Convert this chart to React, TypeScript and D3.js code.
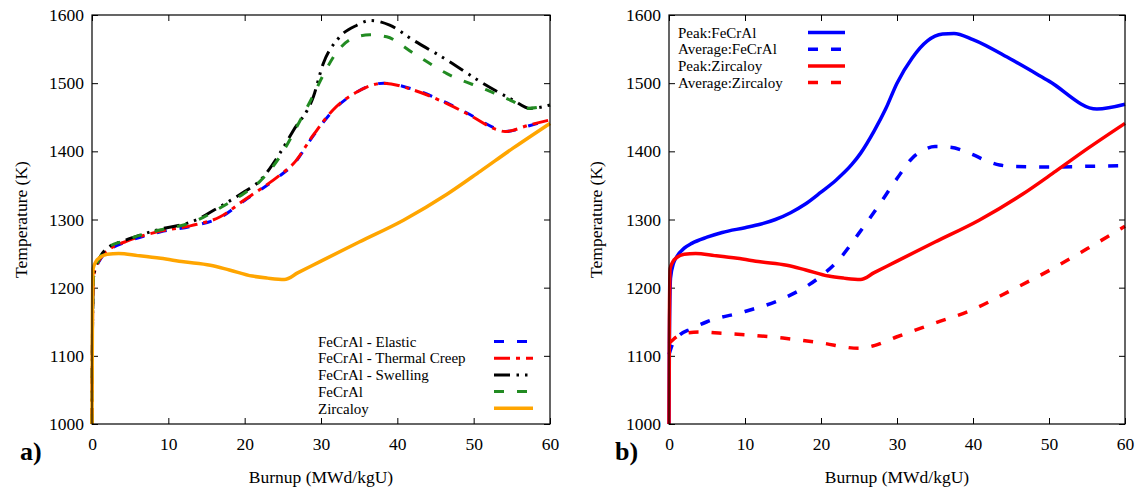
import React, { useRef, useEffect } from 'react'
import * as d3 from 'd3'

type Pt = [number, number]

const xTicks = [0, 10, 20, 30, 40, 50, 60]
const yTicks = [1000, 1100, 1200, 1300, 1400, 1500, 1600]

// panel a) burnup (MWd/kgU) vs temperature (K)
const elastic: Pt[] = [[0, 1000], [0.05, 1120], [0.2, 1215], [0.5, 1228], [1, 1240], [1.5, 1248], [2.5, 1257], [4.5, 1267], [9, 1282], [13, 1290], [16.8, 1303], [20, 1328], [22, 1343], [24.6, 1364], [26.4, 1381], [29, 1423], [31.6, 1460], [34.7, 1487], [38.2, 1500], [42.1, 1491], [46.5, 1471], [49.5, 1454], [53, 1433], [54.1, 1429], [57.4, 1438], [60, 1446]]
const thermalCreep: Pt[] = [[0, 1000], [0.05, 1120], [0.2, 1216], [0.5, 1229], [1, 1241], [1.5, 1249], [2.5, 1258], [4.5, 1268], [9, 1283], [13, 1291], [16.8, 1304], [20, 1329], [22, 1344], [24.6, 1365], [26.4, 1382], [29, 1424], [31.6, 1461], [34.7, 1487], [38.2, 1500], [42.1, 1490], [46.5, 1470], [49.5, 1453], [53, 1432], [54.1, 1429], [57.4, 1439], [60, 1446]]
const swelling: Pt[] = [[0, 1000], [0.05, 1120], [0.2, 1216], [0.5, 1231], [1, 1244], [2, 1258], [4, 1268], [6, 1276], [9, 1286], [12, 1293], [14, 1301], [16, 1314], [18, 1327], [20, 1341], [22, 1357], [24.6, 1397], [26.4, 1431], [29, 1480], [30.3, 1529], [32.3, 1566], [34.7, 1585], [36.5, 1592], [39, 1585], [42.1, 1563], [46.5, 1534], [50.9, 1502], [55.2, 1475], [57.4, 1463], [60, 1468]]
const fecral: Pt[] = [[0, 1000], [0.05, 1120], [0.2, 1215], [0.5, 1230], [1, 1243], [2, 1258], [4, 1268], [6, 1276], [9, 1285], [12, 1292], [14, 1300], [16, 1312], [18, 1325], [20, 1339], [22, 1356], [24.6, 1392], [27.3, 1446], [28.8, 1478], [30.3, 1512], [32.1, 1546], [34.2, 1566], [36.4, 1571], [38.6, 1568], [42.1, 1544], [46.5, 1514], [51.7, 1490], [55.2, 1473], [56.9, 1463], [60, 1468]]
const zircaloy: Pt[] = [[0, 1000], [0.05, 1150], [0.15, 1228], [0.5, 1238], [1, 1244], [2, 1249], [3.5, 1250], [6, 1247], [9, 1243], [12, 1238], [15.5, 1233], [18, 1226], [21, 1217], [23, 1214], [25.2, 1212], [27, 1222], [30, 1239], [35, 1267], [40.8, 1299], [46.5, 1337], [50.9, 1371], [55.2, 1405], [60, 1441]]

// panel b)
const peakFeCrAl: Pt[] = [[0, 1000], [0.05, 1120], [0.2, 1214], [0.6, 1236], [1, 1245], [2, 1258], [3, 1265], [5, 1274], [7, 1281], [10, 1288], [12, 1293], [14, 1300], [16, 1310], [18, 1323], [20, 1340], [22, 1358], [24, 1380], [25.2, 1397], [27, 1430], [28.5, 1462], [30, 1500], [32, 1537], [34, 1562], [36, 1572], [37.5, 1573], [40, 1564], [45, 1535], [50, 1503], [56.3, 1462], [60, 1469]]
const avgFeCrAl: Pt[] = [[0, 1102], [0.5, 1118], [1, 1126], [3, 1140], [5, 1150], [10, 1165], [15, 1184], [20, 1217], [22.5, 1243], [25, 1280], [27.5, 1319], [30, 1360], [32, 1390], [33.5, 1402], [35, 1407], [37, 1406], [40, 1395], [42, 1385], [43.5, 1380], [45, 1378], [50, 1377], [55, 1378], [60, 1379]]
const peakZircaloy: Pt[] = zircaloy
const avgZircaloy: Pt[] = [[0, 1118], [1, 1128], [2, 1133], [4, 1135], [7, 1133], [10, 1131], [15, 1126], [20, 1119], [25, 1111], [27, 1115], [30, 1128], [35, 1148], [40, 1168], [45, 1196], [50, 1225], [55, 1257], [60, 1290]]

interface Series { name: string; data: Pt[]; color: string; dash: string; width: number }

const seriesA: Series[] = [
  { name: 'FeCrAl - Elastic', data: elastic, color: '#0000ff', dash: '10,13', width: 3 },
  { name: 'FeCrAl - Thermal Creep', data: thermalCreep, color: '#ff0000', dash: '16,6,4,6', width: 3 },
  { name: 'FeCrAl - Swelling', data: swelling, color: '#000000', dash: '16,6.5,2.5,6,2.5,6.5', width: 3 },
  { name: 'FeCrAl', data: fecral, color: '#228b22', dash: '10,13', width: 3 },
  { name: 'Zircaloy', data: zircaloy, color: '#ffa500', dash: '', width: 3.5 },
]

const seriesB: Series[] = [
  { name: 'Peak:FeCrAl', data: peakFeCrAl, color: '#0000ff', dash: '', width: 3.5 },
  { name: 'Average:FeCrAl', data: avgFeCrAl, color: '#0000ff', dash: '10,13', width: 3.5 },
  { name: 'Peak:Zircaloy', data: peakZircaloy, color: '#ff0000', dash: '', width: 3.5 },
  { name: 'Average:Zircaloy', data: avgZircaloy, color: '#ff0000', dash: '10,13', width: 3.5 },
]

const FONT = '"Liberation Serif"'

function drawPanel(
  root: d3.Selection<SVGSVGElement, unknown, null, undefined>,
  opts: { left: number; top: number; width: number; height: number; label: string; labelX: number; titleX: number; series: Series[]; legend: { textX: number; lineX1: number; lineX2: number; y0: number; dy: number } }
) {
  const { left, top, width, height } = opts
  const g = root.append('g').attr('transform', `translate(${left},${top})`)

  const x = d3.scaleLinear().domain([0, 60]).range([0, width])
  const y = d3.scaleLinear().domain([1000, 1600]).range([height, 0])

  // axes with inward ticks, mirrored on top and right
  const styleAxis = (a: d3.Selection<SVGGElement, unknown, null, undefined>) => {
    a.select('.domain').remove()
    a.selectAll('line').attr('stroke', '#000').attr('stroke-width', 1)
    a.selectAll('text').attr('fill', '#000')
      .style('font-family', FONT).style('font-size', '17.5px')
  }
  g.append('g').attr('transform', `translate(0,${height})`)
    .call(d3.axisBottom(x).tickValues(xTicks).tickSizeInner(-6).tickSizeOuter(0).tickPadding(14))
    .call(styleAxis)
  g.append('g')
    .call(d3.axisTop(x).tickValues(xTicks).tickSizeInner(-6).tickSizeOuter(0).tickFormat(() => ''))
    .call(styleAxis)
  g.append('g')
    .call(d3.axisLeft(y).tickValues(yTicks).tickSizeInner(-6).tickSizeOuter(0).tickPadding(8).tickFormat(d3.format('d')))
    .call(styleAxis)
  g.append('g').attr('transform', `translate(${width},0)`)
    .call(d3.axisRight(y).tickValues(yTicks).tickSizeInner(-6).tickSizeOuter(0).tickFormat(() => ''))
    .call(styleAxis)

  // curves
  const line = d3.line<Pt>().x(d => x(d[0])).y(d => y(d[1])).curve(d3.curveMonotoneX)
  g.selectAll('path.curve')
    .data(opts.series)
    .join('path')
    .attr('class', 'curve')
    .attr('d', d => line(d.data))
    .attr('fill', 'none')
    .attr('stroke', d => d.color)
    .attr('stroke-width', d => d.width)
    .attr('stroke-dasharray', d => d.dash || null)
    .attr('stroke-linejoin', 'round')

  // frame
  g.append('rect').attr('width', width).attr('height', height)
    .attr('fill', 'none').attr('stroke', '#000').attr('stroke-width', 1.2)

  // legend
  const lg = opts.legend
  const items = root.append('g').selectAll('g.key').data(opts.series).join('g')
    .attr('class', 'key')
    .attr('transform', (d, i) => `translate(0,${lg.y0 + i * lg.dy})`)
  items.append('text')
    .attr('x', lg.textX).attr('dy', '0.35em')
    .attr('fill', '#000')
    .style('font-family', FONT).style('font-size', '15px')
    .text(d => d.name)
  items.append('line')
    .attr('x1', lg.lineX1).attr('x2', lg.lineX2)
    .attr('stroke', d => d.color)
    .attr('stroke-width', d => d.width)
    .attr('stroke-dasharray', d => d.dash || null)

  // titles
  root.append('text')
    .attr('transform', `translate(${opts.titleX},${top + height / 2}) rotate(-90)`)
    .attr('text-anchor', 'middle').attr('dy', '0.35em')
    .style('font-family', FONT).style('font-size', '17.5px')
    .text('Temperature (K)')
  root.append('text')
    .attr('x', left + width / 2).attr('y', 477).attr('dy', '0.35em')
    .attr('text-anchor', 'middle')
    .style('font-family', FONT).style('font-size', '17.5px')
    .text('Burnup (MWd/kgU)')
  root.append('text')
    .attr('x', opts.labelX).attr('y', 460)
    .style('font-family', FONT).style('font-size', '26px').style('font-weight', 'bold')
    .text(opts.label)
}

function Chart() {
  const ref = useRef<SVGSVGElement>(null)

  useEffect(() => {
    document.body.style.margin = '0'
    document.body.style.overflow = 'hidden'
    const svg = d3.select(ref.current as SVGSVGElement)
    svg.selectAll('*').remove()

    drawPanel(svg, {
      left: 92, top: 15, width: 458, height: 409, label: 'a)', labelX: 20, titleX: 21,
      series: seriesA,
      legend: { textX: 318, lineX1: 494, lineX2: 533, y0: 341.5, dy: 16.7 },
    })
    drawPanel(svg, {
      left: 669, top: 15, width: 456, height: 409, label: 'b)', labelX: 615, titleX: 596,
      series: seriesB,
      legend: { textX: 678, lineX1: 808, lineX2: 845, y0: 32.5, dy: 16.7 },
    })
  }, [])

  return (
    <svg ref={ref} width={1141} height={489}
      style={{ display: 'block', background: '#fff', fontFamily: FONT }} />
  )
}

export default function App() {
  return <Chart />
}
